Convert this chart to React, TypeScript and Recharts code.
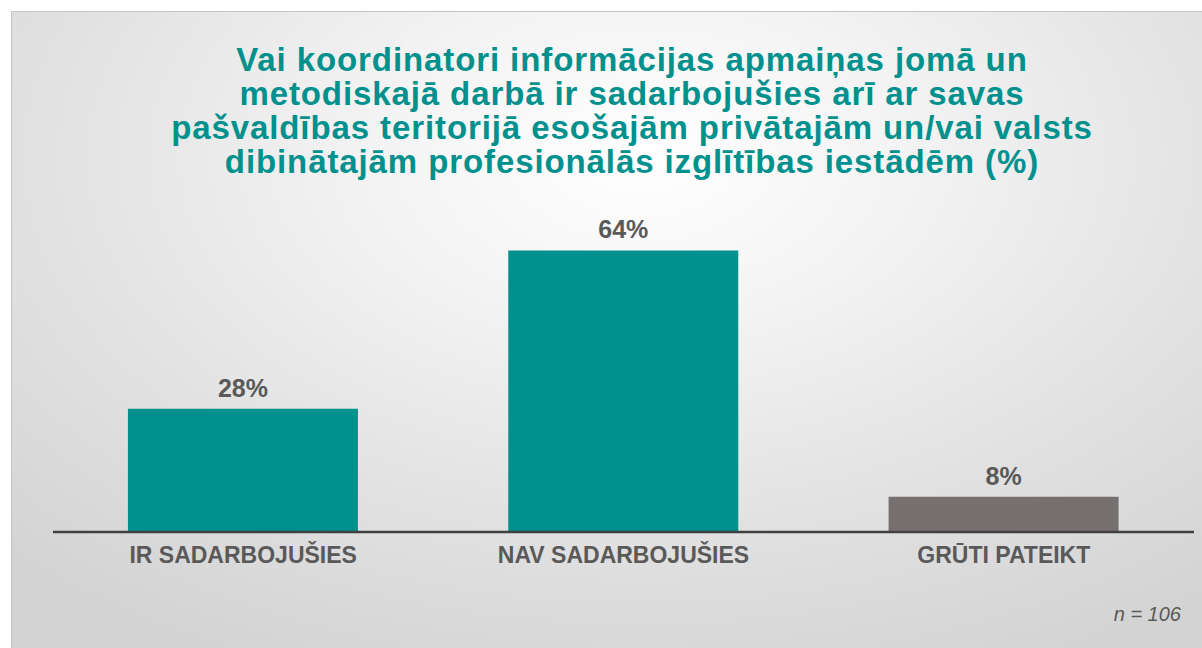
import { BarChart, Bar, XAxis, YAxis, Cell, LabelList } from 'recharts'

const CATEGORIES = ['IR SADARBOJUŠIES', 'NAV SADARBOJUŠIES', 'GRŪTI PATEIKT']
const VALUES = [28, 64, 8]
const BAR_COLORS = ['#00918e', '#00918e', '#767170']

const TITLE_LINES = [
  'Vai koordinatori informācijas apmaiņas jomā un',
  'metodiskajā darbā ir sadarbojušies arī ar savas',
  'pašvaldības teritorijā esošajām privātajām un/vai valsts',
  'dibinātajām profesionālās izglītības iestādēm (%)',
]

const NOTE = 'n = 106'

const data = CATEGORIES.map((name, i) => ({ name, value: VALUES[i] }))

export default function App() {
  return (
    <div
      style={{
        position: 'absolute',
        left: 0,
        top: 0,
        width: 1202,
        height: 648,
        overflow: 'hidden',
        background: '#ffffff',
        fontFamily: '"Liberation Sans", Arial, sans-serif',
      }}
    >
      <div
        style={{
          position: 'absolute',
          left: 11,
          top: 11,
          width: 1210,
          height: 660,
          border: '1px solid #c4c4c4',
          background:
            'radial-gradient(ellipse 75% 85% at 52% 22%, #ffffff 0%, #f3f3f3 30%, #e2e2e2 65%, #d3d3d3 100%)',
        }}
      />
      <div
        style={{
          position: 'absolute',
          left: 82,
          top: 43,
          width: 1100,
          textAlign: 'center',
          color: '#00918e',
          fontWeight: 'bold',
          fontSize: 33,
          letterSpacing: 0.9,
          lineHeight: '34px',
        }}
      >
        {TITLE_LINES.map((t) => (
          <div key={t}>{t}</div>
        ))}
      </div>
      <div style={{ position: 'absolute', left: 0, top: 0 }}>
        <BarChart
          width={1202}
          height={648}
          data={data}
          margin={{ top: 224, right: 8, bottom: 86, left: 53 }}
          barCategoryGap="19.7%"
        >
          <XAxis
            dataKey="name"
            axisLine={{ stroke: '#404040', strokeWidth: 2.5 }}
            tickLine={false}
            tick={{ fill: '#595959', fontSize: 23, fontWeight: 'bold' }}
            tickMargin={9}
          />
          <YAxis hide domain={[0, 70]} />
          <Bar dataKey="value" isAnimationActive={false}>
            {data.map((d, i) => (
              <Cell key={d.name} fill={BAR_COLORS[i]} />
            ))}
            <LabelList
              dataKey="value"
              position="top"
              offset={12}
              formatter={(v: number) => `${v}%`}
              style={{ fill: '#595959', fontSize: 25, fontWeight: 'bold' }}
            />
          </Bar>
        </BarChart>
      </div>
      <div
        style={{
          position: 'absolute',
          right: 21,
          top: 603,
          color: '#595959',
          fontStyle: 'italic',
          fontSize: 20,
        }}
      >
        {NOTE}
      </div>
    </div>
  )
}
